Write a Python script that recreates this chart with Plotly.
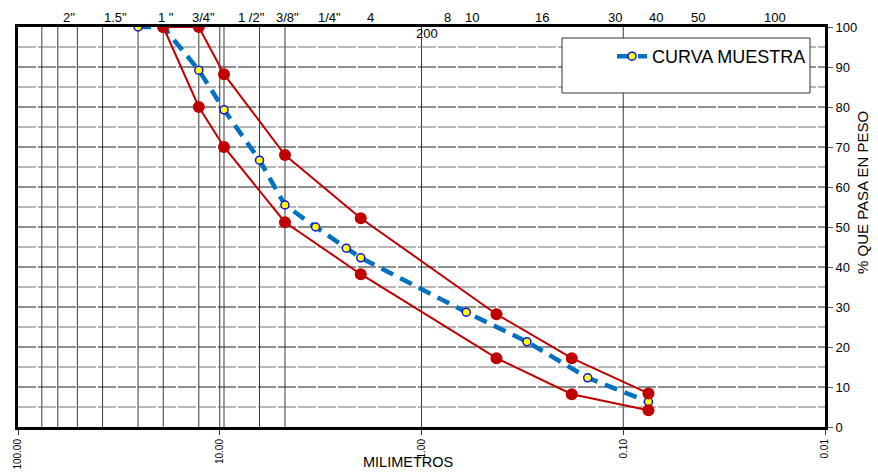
import math
import plotly.graph_objects as go

# ---------------- data ----------------
sample_mm = [25.4, 19.05, 12.7, 9.525, 6.35, 4.75, 3.35, 2.36, 2.0, 0.6, 0.3, 0.15, 0.075]
sample_pct = [100, 100, 89.2, 79.3, 66.7, 55.5, 50.0, 44.7, 42.3, 28.7, 21.3, 12.3, 6.3]

limit_mm = [19.05, 12.7, 9.525, 4.75, 2.0, 0.425, 0.18, 0.075]
upper_pct = [100, 100, 88.2, 68.0, 52.2, 28.2, 17.2, 8.4]
lower_pct = [100, 80, 70.0, 51.2, 38.2, 17.2, 8.2, 4.2]

grid_mm = [76.2, 63.5, 50.8, 38.1, 25.4, 19.05, 12.7, 10, 9.525, 6.35, 4.75, 1, 0.1]
grid_pct_major = [10, 20, 30, 40, 50, 60, 70, 80, 90]
grid_pct_minor = [5, 15, 25, 35, 45, 55, 65, 75, 85, 95]

x_tickvals = [100, 10, 1, 0.1, 0.01]
x_ticktext = ["100.00", "10.00", "1.00", "0.10", "0.01"]

top_labels = ['2"', '1.5"', '1 "', '3/4"', '1 /2"', '3/8"', '1/4"', '4',
              '8', '10', '16', '30', '40', '50', '100']
top_label_px = [69, 115, 165.7, 203, 251.7, 287.3, 329.3, 370,
                447.3, 472.3, 541.7, 615, 656, 697.7, 775]

# ---------------- layout constants ----------------
W, H = 878, 473
L, R, T, B = 18, 53, 27, 46
PW = W - L - R
PH = H - T - B
FONT = "Arial, Liberation Sans, sans-serif"


def px_to_paper(px):
    return (px - L) / PW


def py_to_paper(py):
    return (H - B - py) / PH


fig = go.Figure()

# vertical grid lines
vx, vy = [], []
for d in grid_mm:
    vx += [d, d, None]
    vy += [0, 100, None]
fig.add_trace(go.Scatter(x=vx, y=vy, mode="lines", line=dict(color="#3a3a3a", width=1),
                         hoverinfo="skip", showlegend=False))


# horizontal grid lines
def hlines(vals, color):
    hx, hy = [], []
    for p in vals:
        hx += [100, 0.01, None]
        hy += [p, p, None]
    fig.add_trace(go.Scatter(x=hx, y=hy, mode="lines",
                             line=dict(color=color, width=1, dash="18px,2px"),
                             hoverinfo="skip", showlegend=False))


hlines(grid_pct_minor, "#707070")
hlines(grid_pct_major, "#1e1e1e")

# sample curve
fig.add_trace(go.Scatter(
    x=sample_mm, y=sample_pct, mode="lines+markers", name="CURVA MUESTRA",
    line=dict(color="#0070C0", width=4.5, dash="13px,8px"),
    marker=dict(size=8, color="#FFFF00", line=dict(color="#1010E0", width=1.5)),
))

# limit curves
for pct in (upper_pct, lower_pct):
    fig.add_trace(go.Scatter(
        x=limit_mm, y=pct, mode="lines+markers", showlegend=False,
        line=dict(color="#C00000", width=2),
        marker=dict(size=12, color="#C00000"),
    ))

annotations = []
for txt, px in zip(top_labels, top_label_px):
    annotations.append(dict(text=txt, x=px_to_paper(px), y=py_to_paper(17.5),
                            xref="paper", yref="paper", showarrow=False,
                            xanchor="center", yanchor="middle",
                            font=dict(family=FONT, size=13, color="black")))
annotations.append(dict(text="200", x=px_to_paper(427), y=py_to_paper(33),
                        xref="paper", yref="paper", showarrow=False,
                        xanchor="center", yanchor="middle",
                        font=dict(family=FONT, size=13, color="black")))
annotations.append(dict(text="% QUE PASA EN PESO", x=px_to_paper(862), y=py_to_paper(193),
                        xref="paper", yref="paper", showarrow=False, textangle=-90,
                        xanchor="center", yanchor="middle",
                        font=dict(family=FONT, size=15, color="black")))
annotations.append(dict(text="MILIMETROS", x=px_to_paper(408), y=py_to_paper(462),
                        xref="paper", yref="paper", showarrow=False,
                        xanchor="center", yanchor="middle",
                        font=dict(family=FONT, size=14.5, color="black")))

fig.update_layout(
    width=W, height=H,
    margin=dict(l=L, r=R, t=T, b=B, pad=0, autoexpand=False),
    paper_bgcolor="white", plot_bgcolor="white",
    font=dict(family=FONT, color="black"),
    showlegend=True,
    legend=dict(x=px_to_paper(612), y=py_to_paper(38), xanchor="left", yanchor="top",
                bgcolor="rgba(0,0,0,0)", borderwidth=0,
                font=dict(family=FONT, size=18, color="black")),
    shapes=[dict(type="rect", xref="paper", yref="paper",
                 x0=px_to_paper(562), x1=px_to_paper(810),
                 y0=py_to_paper(93), y1=py_to_paper(38),
                 fillcolor="white", line=dict(color="#333333", width=1), layer="above")],
    annotations=annotations,
)

fig.update_xaxes(type="log", range=[2, -2], tickvals=x_tickvals, ticktext=x_ticktext,
                 tickangle=-90, tickfont=dict(size=10, family=FONT),
                 ticks="outside", ticklen=5, tickcolor="#333",
                 showgrid=False, zeroline=False, automargin=False,
                 showline=True, linecolor="black", linewidth=3, mirror=True)
fig.update_yaxes(range=[0, 100], side="right", dtick=10, tick0=0,
                 tickfont=dict(size=13, family=FONT),
                 ticks="outside", ticklen=5, tickcolor="#555",
                 showgrid=False, zeroline=False, automargin=False,
                 showline=True, linecolor="black", linewidth=3, mirror=True)

fig.write_html("out.html")
